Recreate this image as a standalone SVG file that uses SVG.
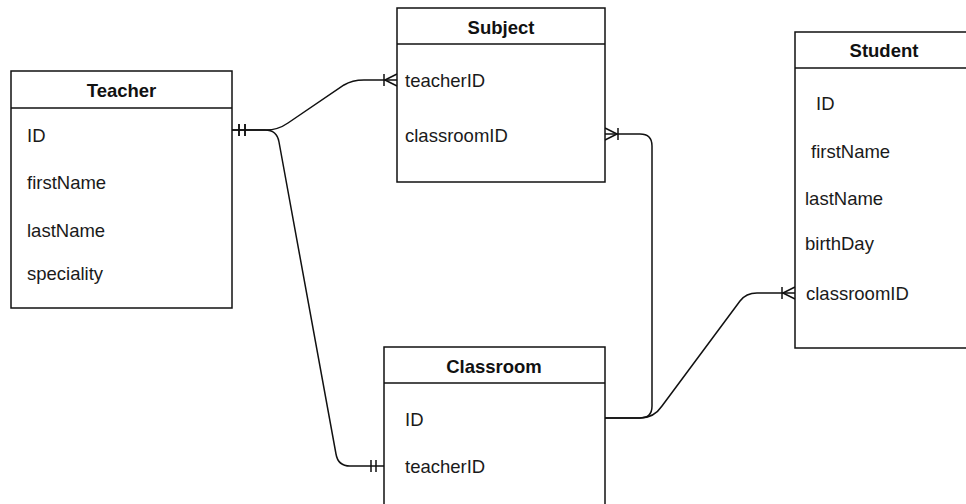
<svg xmlns="http://www.w3.org/2000/svg" width="966" height="504" viewBox="0 0 966 504">
<style>
.box{fill:#fff;stroke:#111;stroke-width:1.5}
.sep{stroke:#111;stroke-width:1.5}
.title{font-family:"Liberation Sans",Arial,sans-serif;font-size:18.5px;font-weight:bold;fill:#111;text-anchor:middle}
.field{font-family:"Liberation Sans",Arial,sans-serif;font-size:18.5px;fill:#1a1a1a}
.edge{fill:none;stroke:#111;stroke-width:1.5}
</style>
<defs>
<marker id="one" markerUnits="userSpaceOnUse" viewBox="-18 -8 20 16" refX="0" refY="0" markerWidth="20" markerHeight="16" orient="auto" overflow="visible">
<path d="M-8 -6 V6 M-13 -6 V6" fill="none" stroke="#111" stroke-width="1.5"/>
</marker>
<marker id="oneS" markerUnits="userSpaceOnUse" viewBox="-18 -8 20 16" refX="0" refY="0" markerWidth="20" markerHeight="16" orient="auto-start-reverse" overflow="visible">
<path d="M-7 -6 V6 M-13 -6 V6" fill="none" stroke="#111" stroke-width="1.5"/>
</marker>
<marker id="many" markerUnits="userSpaceOnUse" viewBox="-18 -8 20 16" refX="0" refY="0" markerWidth="20" markerHeight="16" orient="auto" overflow="visible">
<path d="M-13 -6 V6 M-12 0 L0 -6 M-12 0 L0 6" fill="none" stroke="#111" stroke-width="1.5"/>
</marker>
</defs>

<g id="connectors">
<path id="teacher-subject" class="edge" d="M232 130 L266 130 Q278 130 288 123 L344 85 Q352 80 364 80 L397 80" marker-start="url(#oneS)" marker-end="url(#many)"/>
<path id="teacher-classroom" class="edge" d="M232 130 L265 130 Q277 130 279 142 L336 454 Q338 466 350 466 L384 466" marker-start="url(#oneS)" marker-end="url(#one)"/>
<path id="classroom-subject" class="edge" d="M605 418 L640 418 Q652 418 652 406 L652 146 Q652 134 640 134 L605 134" marker-end="url(#many)"/>
<path id="classroom-student" class="edge" d="M605 418 L640 418 Q654 418 662 406 L740 301 Q746 293 757 293 L795 293" marker-end="url(#many)"/>
</g>

<g id="teacher">
<rect class="box" x="11" y="71" width="221" height="237"/>
<line class="sep" x1="11" y1="108" x2="232" y2="108"/>
<text class="title" x="121.5" y="97">Teacher</text>
<text class="field" x="27" y="141.5">ID</text>
<text class="field" x="27" y="189">firstName</text>
<text class="field" x="27" y="236.5">lastName</text>
<text class="field" x="27" y="280">speciality</text>
</g>

<g id="subject">
<rect class="box" x="397" y="8" width="208" height="174"/>
<line class="sep" x1="397" y1="44" x2="605" y2="44"/>
<text class="title" x="501" y="33.5">Subject</text>
<text class="field" x="405" y="86.5">teacherID</text>
<text class="field" x="405" y="142">classroomID</text>
</g>

<g id="student">
<rect class="box" x="795" y="32" width="180" height="316"/>
<line class="sep" x1="795" y1="68" x2="975" y2="68"/>
<text class="title" x="884" y="57">Student</text>
<text class="field" x="816" y="110">ID</text>
<text class="field" x="811" y="157.5">firstName</text>
<text class="field" x="805" y="205">lastName</text>
<text class="field" x="805" y="250">birthDay</text>
<text class="field" x="806" y="300">classroomID</text>
</g>

<g id="classroom">
<rect class="box" x="384" y="347" width="221" height="170"/>
<line class="sep" x1="384" y1="383" x2="605" y2="383"/>
<text class="title" x="494" y="372.5">Classroom</text>
<text class="field" x="405" y="425.5">ID</text>
<text class="field" x="405" y="473">teacherID</text>
</g>
</svg>
